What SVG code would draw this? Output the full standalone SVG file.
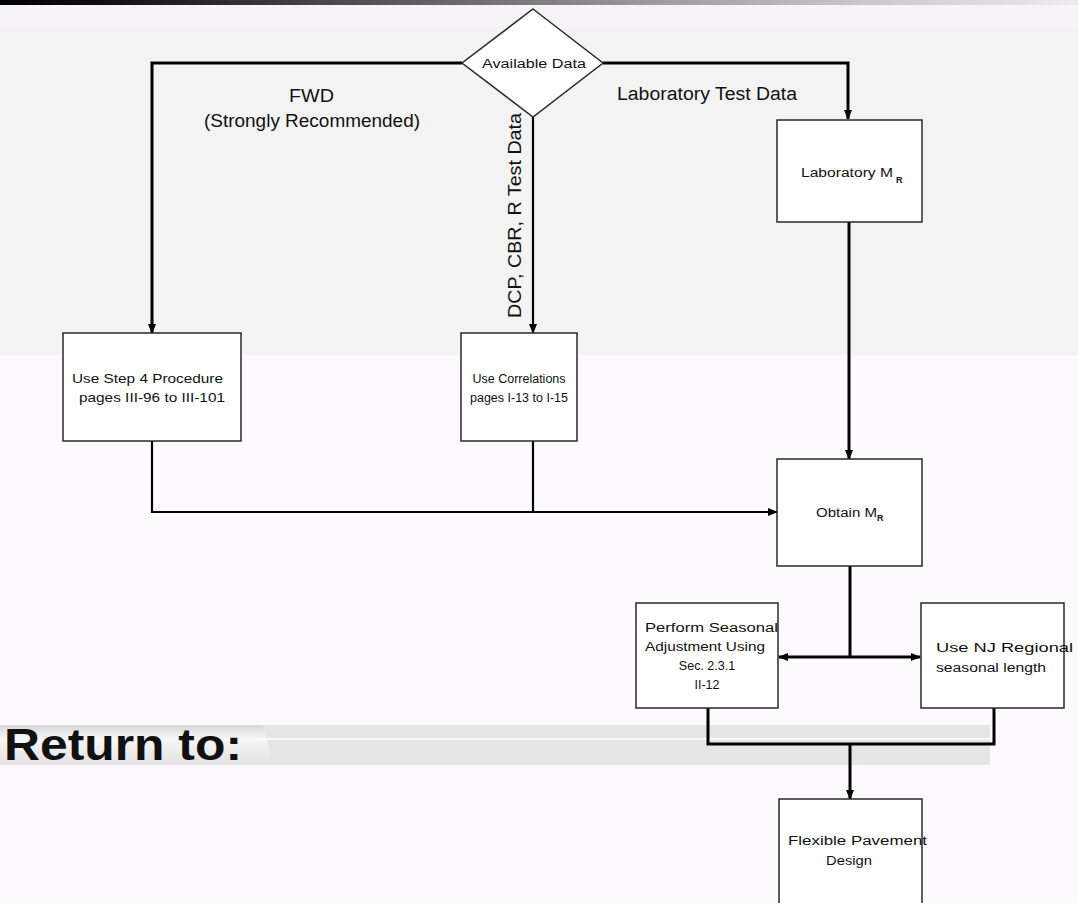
<svg xmlns="http://www.w3.org/2000/svg" width="1078" height="903" viewBox="0 0 1078 903">
  <defs>
    <linearGradient id="topBar" x1="0" y1="0" x2="1" y2="0">
      <stop offset="0" stop-color="#000"/>
      <stop offset="0.12" stop-color="#151515"/>
      <stop offset="0.35" stop-color="#555"/>
      <stop offset="0.6" stop-color="#9a9a9a"/>
      <stop offset="0.8" stop-color="#c8c8c8"/>
      <stop offset="1" stop-color="#ececec"/>
    </linearGradient>
    <linearGradient id="tabGrad" x1="0" y1="0" x2="0" y2="1">
      <stop offset="0" stop-color="#d6d6d6"/>
      <stop offset="0.35" stop-color="#f8f8f8"/>
      <stop offset="0.6" stop-color="#eeeeee"/>
      <stop offset="1" stop-color="#e2e2e2"/>
    </linearGradient>
    <marker id="arrow" markerWidth="10" markerHeight="10" refX="9" refY="5" orient="auto" markerUnits="userSpaceOnUse">
      <path d="M0,1 L10,5 L0,9 Z" fill="#000"/>
    </marker>
  </defs>
  <style>
    .box { fill: #fff; stroke: #2a2a2a; stroke-width: 1.5; }
    .wire { fill: none; stroke: #000; stroke-width: 3; }
    .thin { stroke-width: 2.2; }
    .lbl { font-family: "Liberation Sans", Arial, sans-serif; fill: #111; }
    .big { font-size: 18px; }
    .small { font-size: 12.5px; }
    .sub { font-size: 9px; font-weight: bold; }
  </style>

  <!-- page background -->
  <rect x="0" y="0" width="1078" height="903" fill="#fcfafc"/>
  <rect x="0" y="5" width="1078" height="22" fill="#f7f4f7"/>
  <rect x="0" y="27" width="1078" height="328" fill="#f3f3f3"/>
  <rect x="0" y="0" width="1078" height="5" fill="url(#topBar)"/>

  <!-- "Return to" banner -->
  <g id="return-banner">
    <rect x="0" y="725" width="990" height="40" fill="#e5e5e5"/>
    <polygon points="0,725 263,725 273,765 0,765" fill="url(#tabGrad)"/>
    <line x1="260" y1="739" x2="990" y2="739" stroke="#fff" stroke-width="1.5"/>
    <text class="lbl" x="4" y="760" font-size="45" font-weight="bold" fill="#000" textLength="238" lengthAdjust="spacingAndGlyphs">Return to:</text>
  </g>

  <!-- connectors -->
  <g id="connectors">
    <polyline class="wire" points="462,63 152,63 152,333" marker-end="url(#arrow)"/>
    <polyline class="wire" points="603,63 848,63 848,119" marker-end="url(#arrow)"/>
    <line class="wire thin" x1="533" y1="117" x2="533" y2="333" marker-end="url(#arrow)"/>
    <polyline class="wire thin" points="152,441 152,512 777,512" marker-end="url(#arrow)"/>
    <line class="wire thin" x1="533" y1="441" x2="533" y2="512"/>
    <line class="wire" x1="849" y1="222" x2="849" y2="459" marker-end="url(#arrow)"/>
    <line class="wire" x1="850" y1="566" x2="850" y2="657"/>
    <line class="wire" x1="850" y1="657" x2="779" y2="657" marker-end="url(#arrow)"/>
    <line class="wire" x1="850" y1="657" x2="920" y2="657" marker-end="url(#arrow)"/>
    <polyline class="wire" points="708,708 708,744 994,744 994,708"/>
    <line class="wire" x1="850" y1="744" x2="850" y2="799" marker-end="url(#arrow)"/>
  </g>

  <!-- branch labels -->
  <g id="labels">
    <text class="lbl big" x="289" y="102" textLength="45" lengthAdjust="spacingAndGlyphs">FWD</text>
    <text class="lbl big" x="204" y="127" textLength="216" lengthAdjust="spacingAndGlyphs">(Strongly Recommended)</text>
    <text class="lbl big" x="617" y="100" textLength="180" lengthAdjust="spacingAndGlyphs">Laboratory Test Data</text>
    <text class="lbl big" transform="translate(521,318) rotate(-90)" textLength="205" lengthAdjust="spacingAndGlyphs">DCP, CBR, R Test Data</text>
  </g>

  <g id="available-data">
    <polygon class="box" points="533,9 603,63 533,117 462,63"/>
    <text class="lbl small" x="482" y="68" textLength="104" lengthAdjust="spacingAndGlyphs">Available Data</text>
  </g>

  <g id="laboratory-mr">
    <rect class="box" x="777" y="120" width="145" height="102"/>
    <text class="lbl small" x="801" y="177" textLength="92" lengthAdjust="spacingAndGlyphs">Laboratory M</text>
    <text class="lbl sub" x="896" y="183">R</text>
  </g>

  <g id="step4-procedure">
    <rect class="box" x="63" y="333" width="178" height="108"/>
    <text class="lbl small" x="72" y="383" textLength="151" lengthAdjust="spacingAndGlyphs">Use Step 4 Procedure</text>
    <text class="lbl small" x="79" y="402" textLength="146" lengthAdjust="spacingAndGlyphs">pages III-96 to III-101</text>
  </g>

  <g id="correlations">
    <rect class="box" x="461" y="333" width="116" height="108"/>
    <text class="lbl small" x="519" y="383" text-anchor="middle">Use Correlations</text>
    <text class="lbl small" x="519" y="402" text-anchor="middle">pages I-13 to I-15</text>
  </g>

  <g id="obtain-mr">
    <rect class="box" x="777" y="459" width="145" height="107"/>
    <text class="lbl small" x="816" y="517" textLength="61" lengthAdjust="spacingAndGlyphs">Obtain M</text>
    <text class="lbl sub" x="877" y="521">R</text>
  </g>

  <g id="seasonal-adjustment">
    <rect class="box" x="636" y="603" width="142" height="105"/>
    <text class="lbl small" x="645" y="632" textLength="133" lengthAdjust="spacingAndGlyphs">Perform Seasonal</text>
    <text class="lbl small" x="645" y="651" textLength="120" lengthAdjust="spacingAndGlyphs">Adjustment Using</text>
    <text class="lbl small" x="707" y="670" text-anchor="middle">Sec. 2.3.1</text>
    <text class="lbl small" x="707" y="689" text-anchor="middle">II-12</text>
  </g>

  <g id="nj-regional">
    <rect class="box" x="921" y="603" width="143" height="105"/>
    <text class="lbl small" x="936" y="652" textLength="137" lengthAdjust="spacingAndGlyphs">Use NJ Regional</text>
    <text class="lbl small" x="936" y="672" textLength="110" lengthAdjust="spacingAndGlyphs">seasonal length</text>
  </g>

  <g id="flexible-pavement">
    <rect class="box" x="779" y="799" width="143" height="110"/>
    <text class="lbl small" x="788" y="845" textLength="139" lengthAdjust="spacingAndGlyphs">Flexible Pavement</text>
    <text class="lbl small" x="826" y="865" textLength="46" lengthAdjust="spacingAndGlyphs">Design</text>
  </g>
</svg>
